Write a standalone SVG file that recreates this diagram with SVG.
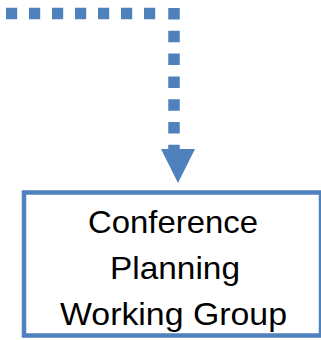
<svg xmlns="http://www.w3.org/2000/svg" width="321" height="340" viewBox="0 0 321 340">
<style>
.conn{fill:none;stroke:#4f81bd;stroke-width:11.5;stroke-linecap:butt}
.head{fill:#4f81bd}
.box{fill:#fff;stroke:#4f81bd;stroke-width:4.5}
.lbl{font-family:"Liberation Sans",Arial,sans-serif;font-size:31.5px;fill:#000;text-anchor:middle}
</style>
<g id="connectors">
<path class="conn" d="M6 13.5H157" stroke-dasharray="11.2 11.8"/>
<path class="conn" d="M174 8V149" stroke-dasharray="11.5 11.3"/>
<polygon class="head" points="161,149 195,149 178,183"/>
</g>
<g id="node-conference-planning">
<rect class="box" x="24" y="192.5" width="297" height="143"/>
<text class="lbl" x="173" y="233" textLength="170" lengthAdjust="spacingAndGlyphs">Conference</text>
<text class="lbl" x="175" y="279" textLength="130" lengthAdjust="spacingAndGlyphs">Planning</text>
<text class="lbl" x="173.5" y="325" textLength="227" lengthAdjust="spacingAndGlyphs">Working Group</text>
</g>
</svg>
